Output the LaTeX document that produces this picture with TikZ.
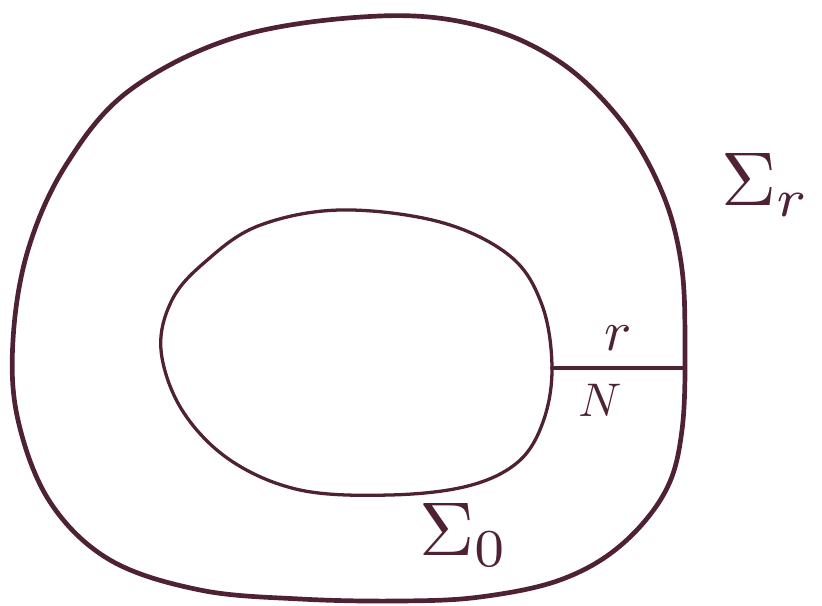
\documentclass[tikz,border=0pt]{standalone}
\usepackage{xcolor}
\usepackage{amsmath,amssymb}
\usetikzlibrary{positioning}
\definecolor{ink}{RGB}{78,34,52}

\begin{document}
\begin{tikzpicture}[x=0.3mm, y=-0.3mm, line join=round, line cap=round,
curve/.style={draw=ink, line width=4pt},
inner/.style={draw=ink, line width=2.8pt},
lbl/.style={text=ink, inner sep=0pt, scale=6.5}]
\useasboundingbox (0,0) rectangle (822,606);
% outer surface
\draw[curve] plot[smooth cycle, tension=0.6] coordinates {(380,16) (480,26) (560,62) (622,122) (662,192) (681,262) (685,340) (682,430) (665,492) (620,546) (560,580) (480,597) (400,601) (300,599) (200,590) (110,560) (50,502) (18,420) (13,340) (28,250) (66,165) (130,90) (240,36)};
% inner surface
\draw[inner] plot[smooth cycle, tension=0.6] coordinates {(340,210) (440,222) (510,256) (542,305) (552,368) (543,422) (518,462) (468,486) (390,495) (300,490) (230,460) (182,410) (161,350) (172,300) (205,262) (258,226)};
\coordinate (a) at (552,368);
\coordinate (b) at (683,368);
\draw[curve, line width=3.4pt] (a) -- (b);
\node[lbl, scale=0.75] (r) at (618,338) {$r$};
\node[lbl, scale=0.62] (N) at (600,400) {$N$};
\node[lbl, anchor=west] (Sr) at (720,185) {$\Sigma_r$};
\node[lbl, anchor=west] (S0) at (418,535) {$\Sigma_0$};
\end{tikzpicture}
\end{document}
